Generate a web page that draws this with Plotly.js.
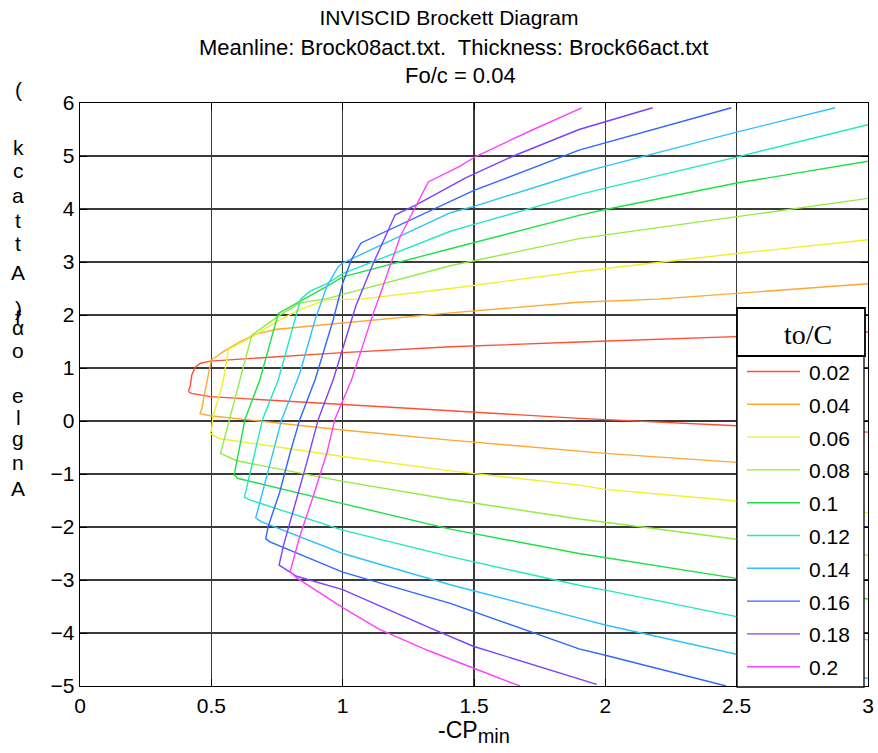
<!DOCTYPE html>
<html>
<head>
<meta charset="utf-8">
<script src="https://cdn.plot.ly/plotly-3.0.1.min.js"></script>
<style>html,body{margin:0;padding:0;background:#fff;}#chart{width:878px;height:753px;}</style>
</head>
<body>
<div id="chart"></div>
<script>
// ---- data ----
var tcLabels = ['0.02','0.04','0.06','0.08','0.1','0.12','0.14','0.16','0.18','0.2'];

var cp_002  = [3.0, 2.5, 1.9, 1.41, 1.0, 0.495, 0.457, 0.438, 0.425, 0.42, 0.414, 0.416, 0.425, 0.495, 1.0, 1.9, 2.5, 3.0];
var aoa_002 = [1.68, 1.6, 1.49, 1.40, 1.29, 1.13, 1.085, 1.01, 0.86, 0.66, 0.59, 0.54, 0.52, 0.46, 0.31, 0.05, -0.09, -0.21];

var cp_004  = [3.0, 2.5, 2.2, 1.9, 1.41, 1.0, 0.75, 0.67, 0.61, 0.546, 0.50, 0.49, 0.48, 0.47, 0.465, 0.457, 0.495, 1.0, 1.41, 1.9, 2.0, 2.5, 3.0];
var aoa_004 = [2.59, 2.40, 2.30, 2.24, 2.04, 1.85, 1.73, 1.64, 1.50, 1.31, 1.15, 0.91, 0.69, 0.41, 0.25, 0.14, 0.10, -0.17, -0.36, -0.56, -0.61, -0.78, -0.96];

var cp_006  = [3.0, 2.5, 1.9, 1.41, 1.07, 0.94, 0.837, 0.75, 0.66, 0.565, 0.546, 0.54, 0.507, 0.50, 0.495, 0.53, 1.0, 1.41, 1.9, 2.0, 2.5, 3.0];
var aoa_006 = [3.42, 3.16, 2.82, 2.50, 2.30, 2.29, 2.10, 1.88, 1.60, 1.35, 0.78, 0.66, 0.09, -0.19, -0.23, -0.33, -0.67, -0.94, -1.21, -1.29, -1.51, -1.73];

var cp_008  = [3.0, 2.5, 1.9, 1.41, 1.0, 0.94, 0.837, 0.755, 0.654, 0.61, 0.568, 0.535, 0.596, 1.0, 1.41, 1.9, 2.0, 2.5, 3.0];
var aoa_008 = [4.20, 3.86, 3.44, 2.93, 2.39, 2.31, 2.23, 1.98, 1.62, 0.78, 0.03, -0.61, -0.75, -1.14, -1.48, -1.85, -1.91, -2.23, -2.53];

var cp_010  = [3.0, 2.5, 2.0, 1.9, 1.41, 1.0, 0.94, 0.837, 0.755, 0.685, 0.628, 0.587, 0.60, 1.0, 1.41, 1.9, 2.0, 2.5, 3.0];
var aoa_010 = [4.90, 4.49, 3.99, 3.88, 3.25, 2.72, 2.54, 2.26, 2.03, 0.78, 0.03, -1.02, -1.08, -1.56, -2.04, -2.50, -2.58, -2.97, -3.36];

var cp_012  = [3.0, 2.5, 1.98, 1.9, 1.5, 1.41, 1.0, 0.94, 0.876, 0.84, 0.755, 0.695, 0.626, 0.647, 1.0, 1.41, 1.9, 2.0, 2.5, 3.0];
var aoa_012 = [5.59, 4.98, 4.37, 4.27, 3.71, 3.58, 2.78, 2.59, 2.45, 2.30, 0.78, 0.03, -1.44, -1.49, -2.06, -2.56, -3.10, -3.19, -3.69, -4.13];

var cp_014  = [2.875, 2.5, 1.98, 1.9, 1.5, 1.41, 1.0, 0.983, 0.94, 0.895, 0.837, 0.768, 0.669, 0.69, 1.0, 1.41, 1.9, 2.0, 2.5, 3.0];
var aoa_014 = [5.91, 5.45, 4.78, 4.67, 4.05, 3.93, 2.98, 2.91, 2.54, 1.91, 0.90, 0.03, -1.83, -1.90, -2.50, -3.09, -3.72, -3.85, -4.40, -4.86];

var cp_016  = [2.48, 1.98, 1.9, 1.5, 1.155, 1.07, 1.034, 1.0, 0.964, 0.895, 0.837, 0.80, 0.76, 0.717, 0.707, 0.723, 1.0, 1.41, 1.9, 2.0, 2.46];
var aoa_016 = [5.91, 5.22, 5.11, 4.35, 3.55, 3.36, 3.05, 2.60, 1.91, 0.78, 0.03, -0.60, -1.35, -1.98, -2.22, -2.28, -2.85, -3.44, -4.30, -4.42, -5.0];

var cp_018  = [2.18, 1.98, 1.9, 1.65, 1.47, 1.28, 1.2, 1.117, 1.05, 0.964, 0.907, 0.863, 0.818, 0.774, 0.758, 0.825, 1.0, 1.14, 1.33, 1.497, 1.967];
var aoa_018 = [5.91, 5.61, 5.50, 5.0, 4.59, 4.08, 3.89, 2.98, 2.17, 0.78, 0.03, -0.79, -1.61, -2.36, -2.72, -2.93, -3.18, -3.49, -3.90, -4.25, -4.97];

var cp_020  = [1.91, 1.726, 1.51, 1.447, 1.326, 1.22, 1.14, 1.117, 1.034, 0.97, 0.94, 0.888, 0.837, 0.80, 0.825, 1.0, 1.14, 1.33, 1.497, 1.675];
var aoa_020 = [5.91, 5.50, 5.0, 4.81, 4.51, 3.49, 2.35, 2.04, 0.78, 0.03, -0.60, -1.42, -2.17, -2.84, -2.96, -3.52, -3.93, -4.34, -4.66, -5.0];

var cpSeries  = [cp_002, cp_004, cp_006, cp_008, cp_010, cp_012, cp_014, cp_016, cp_018, cp_020];
var aoaSeries = [aoa_002, aoa_004, aoa_006, aoa_008, aoa_010, aoa_012, aoa_014, aoa_016, aoa_018, aoa_020];

var xTicks = [0, 0.5, 1, 1.5, 2, 2.5, 3];
var xTickText = ['0', '0.5', '1', '1.5', '2', '2.5', '3'];
var yTicks = [-5, -4, -3, -2, -1, 0, 1, 2, 3, 4, 5, 6];

// ---- styles ----
var colors = ['#ff4f33', '#ffa733', '#f0f02a', '#94ec42', '#1fe046', '#22e8c0', '#30c0ff', '#2f66ff', '#7c40ff', '#ff40ff'];
var FONT = 'Liberation Sans, Arial, Helvetica, sans-serif';

var W = 878, H = 753;
var M = {l: 80, r: 10, t: 103, b: 67};
var PW = W - M.l - M.r, PH = H - M.t - M.b;
function px(x) { return (x - M.l) / PW; }
function py(y) { return (H - M.b - y) / PH; }

var traces = [];
for (var i = 0; i < tcLabels.length; i++) {
  traces.push({
    type: 'scatter', mode: 'lines',
    x: cpSeries[i], y: aoaSeries[i],
    name: tcLabels[i], showlegend: false,
    line: {color: colors[i], width: 1.4},
    hoverinfo: 'skip'
  });
}

var annotations = [];
var shapes = [];

// y-axis label as rendered in the reference (stacked characters)
var yLabelChars = [['(', 97], ['k', 155], ['c', 178], ['a', 203], ['t', 228], ['t', 251], ['A', 280],
                   [')', 316], ['f', 325], ['\u03b1', 335], ['o', 358], ['e', 403], ['l', 425], ['g', 446], ['n', 470], ['A', 496]];
yLabelChars.forEach(function (c) {
  annotations.push({
    text: c[0], xref: 'paper', yref: 'paper', x: px(18), y: py(c[1] - 7.3),
    xanchor: 'center', yanchor: 'middle', showarrow: false,
    font: {family: FONT, size: 21, color: '#000'}
  });
});

annotations.push({text: 'Meanline: Brock08act.txt.  Thickness: Brock66act.txt', xref: 'paper', yref: 'paper',
  x: px(453), y: py(47), xanchor: 'center', yanchor: 'middle', showarrow: false,
  font: {family: FONT, size: 22, color: '#000'}});
annotations.push({text: 'Fo/c = 0.04', xref: 'paper', yref: 'paper',
  x: px(460), y: py(76), xanchor: 'center', yanchor: 'middle', showarrow: false,
  font: {family: FONT, size: 22, color: '#000'}});

// legend (drawn over the axes like the reference)
var LX0 = 737, LX1 = 864, LTOP = 308, LMID = 356, LBOT = 687;
shapes.push({type: 'rect', xref: 'paper', yref: 'paper', x0: px(LX0), x1: px(LX1), y0: py(LBOT), y1: py(LMID),
             fillcolor: '#fff', line: {color: '#000', width: 1.3}, layer: 'above'});
shapes.push({type: 'rect', xref: 'paper', yref: 'paper', x0: px(LX0), x1: px(LX1 + 1), y0: py(LMID), y1: py(LTOP),
             fillcolor: '#fff', line: {color: '#000', width: 1.8}, layer: 'above'});
annotations.push({text: 'to/C', xref: 'paper', yref: 'paper',
  x: px(808), y: py(334), xanchor: 'center', yanchor: 'middle', showarrow: false,
  font: {family: 'Liberation Serif, Times New Roman, serif', size: 28, color: '#000'}});
for (var k = 0; k < tcLabels.length; k++) {
  var yy = 371.5 + k * 32.8;
  shapes.push({type: 'line', xref: 'paper', yref: 'paper', x0: px(747), x1: px(800), y0: py(yy), y1: py(yy),
               line: {color: colors[k], width: 1.4}, layer: 'above'});
  annotations.push({text: tcLabels[k], xref: 'paper', yref: 'paper', x: px(807), y: py(yy + 1),
    xanchor: 'left', yanchor: 'middle', showarrow: false,
    font: {family: FONT, size: 21, color: '#000'}});
}

var axisCommon = {
  showgrid: true, gridcolor: '#3a3a3a', gridwidth: 1.3,
  zeroline: false, showline: true, linecolor: '#000', linewidth: 1.3, mirror: 'ticks',
  ticks: 'inside', ticklen: 7, tickcolor: '#000', tickwidth: 1,
  tickfont: {family: FONT, size: 21, color: '#000'}
};

var layout = {
  width: W, height: H, margin: M,
  paper_bgcolor: '#fff', plot_bgcolor: '#fff',
  title: {text: 'INVISCID Brockett Diagram', xref: 'paper', x: px(449), xanchor: 'center',
          yref: 'container', y: 1 - 18 / H, yanchor: 'middle',
          font: {family: FONT, size: 21, color: '#000'}},
  xaxis: Object.assign({}, axisCommon, {range: [0, 3], tickvals: xTicks, ticktext: xTickText,
          title: {text: '-CP<sub><span style="font-size:20px">min</span></sub>',
                  font: {family: FONT, size: 23, color: '#000'}, standoff: 6}}),
  yaxis: Object.assign({}, axisCommon, {range: [-5, 6], tickvals: yTicks}),
  showlegend: false,
  annotations: annotations, shapes: shapes
};

Plotly.newPlot('chart', traces, layout, {displayModeBar: false, staticPlot: true});
</script>
</body>
</html>
